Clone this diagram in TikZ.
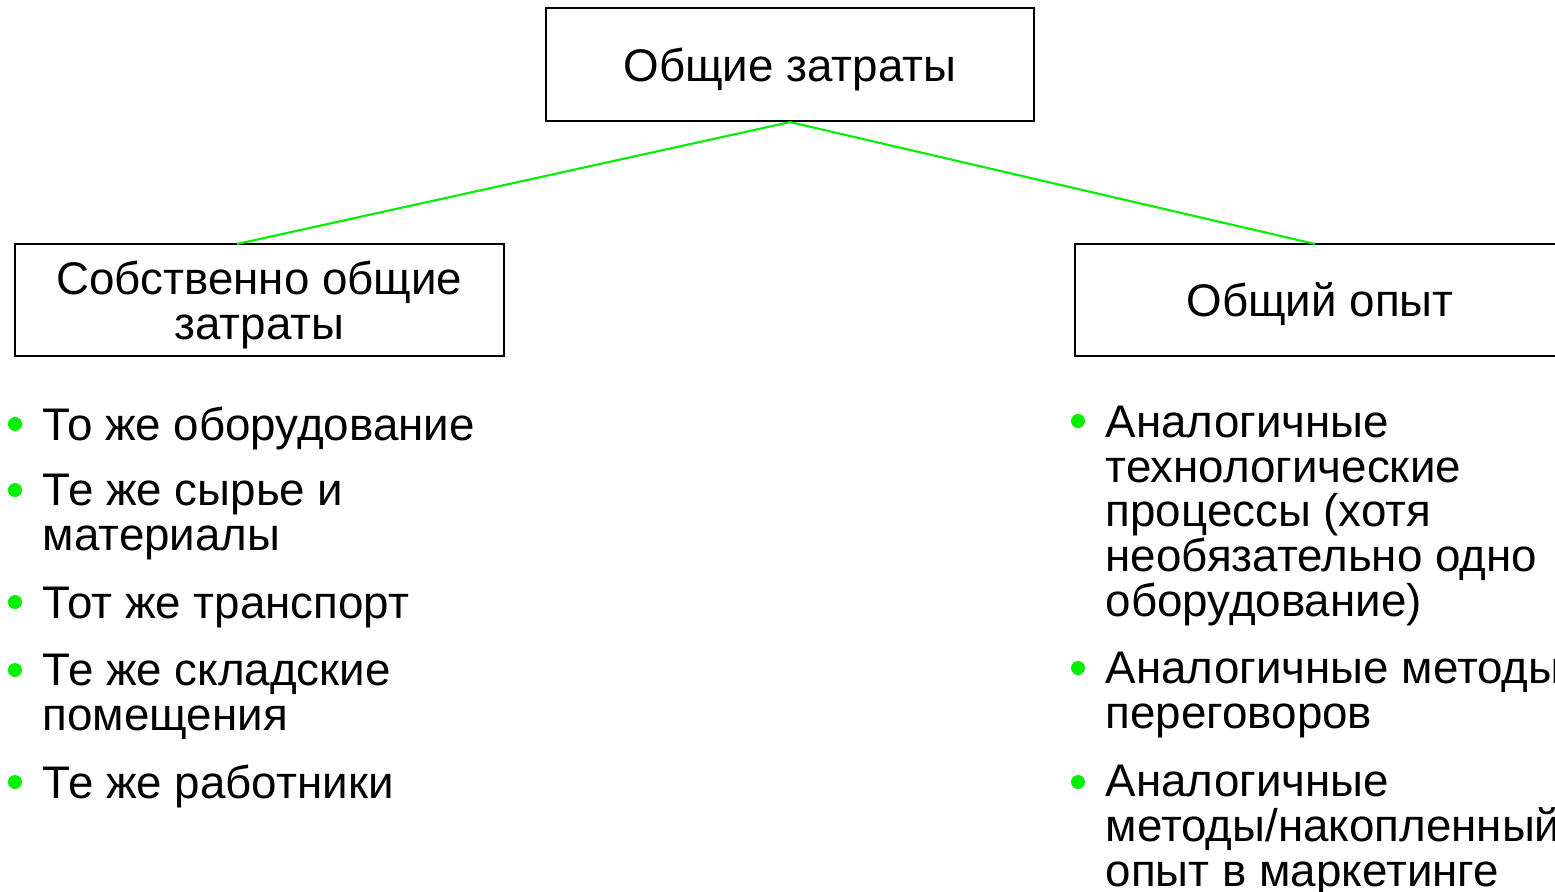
\documentclass[tikz,border=0pt]{standalone}
\usepackage{fontspec}
\setmainfont{Liberation Sans}
\definecolor{limegreen}{RGB}{0,240,0}

\tikzset{
  costbox/.style={draw, line width=0.6pt, align=center, inner sep=0pt,
    text depth=0pt, font=\fontsize{13pt}{12.7pt}\selectfont},
  item/.style={anchor=base west, align=left, inner sep=0pt,
    font=\fontsize{13pt}{12.7pt}\selectfont},
  dot/.style={circle, fill=limegreen, inner sep=0pt, minimum size=0.14cm},
  link/.style={limegreen, line width=0.6pt}
}

\begin{document}
\begin{tikzpicture}[x=0.01cm, y=-0.01cm]
    \useasboundingbox (0,0) rectangle (1555,891);

    % Boxes
    \node[costbox, minimum width=4.88cm, minimum height=1.13cm] (total) at (790,64.5) {Общие затраты};
    \node[costbox, minimum width=4.89cm, minimum height=1.12cm] (own) at (259.5,300) {Собственно общие\\затраты};
    \node[costbox, minimum width=4.9cm, minimum height=1.12cm] (exp) at (1320,300) {Общий опыт};

    \coordinate (ownjoin) at (237,244);
    \coordinate (expjoin) at (1315,244);
    \draw[link] (total.south) -- (ownjoin);
    \draw[link] (total.south) -- (expjoin);

    % Left list (anchored at the last line's baseline)
    \node[dot] (d1) at (15,424) {};
    \node[item] (i1) at (42,440) {То же оборудование};
    \node[dot] (d2) at (15,490) {};
    \node[item] (i2) at (42,550) {Те же сырье и\\материалы};
    \node[dot] (d3) at (15,602) {};
    \node[item] (i3) at (42,618) {Тот же транспорт};
    \node[dot] (d4) at (15,670) {};
    \node[item] (i4) at (42,730) {Те же складские\\помещения};
    \node[dot] (d5) at (15,782) {};
    \node[item] (i5) at (42,798) {Те же работники};

    % Right list
    \node[dot] (e1) at (1078,421) {};
    \node[item] (j1) at (1105,616) {Аналогичные\\технологические\\процессы (хотя\\необязательно одно\\оборудование)};
    \node[dot] (e2) at (1078,668) {};
    \node[item] (j2) at (1105,728) {Аналогичные методы\\переговоров};
    \node[dot] (e3) at (1078,782) {};
    \node[item] (j3) at (1105,886) {Аналогичные\\методы/накопленный\\опыт в маркетинге};
\end{tikzpicture}
\end{document}
